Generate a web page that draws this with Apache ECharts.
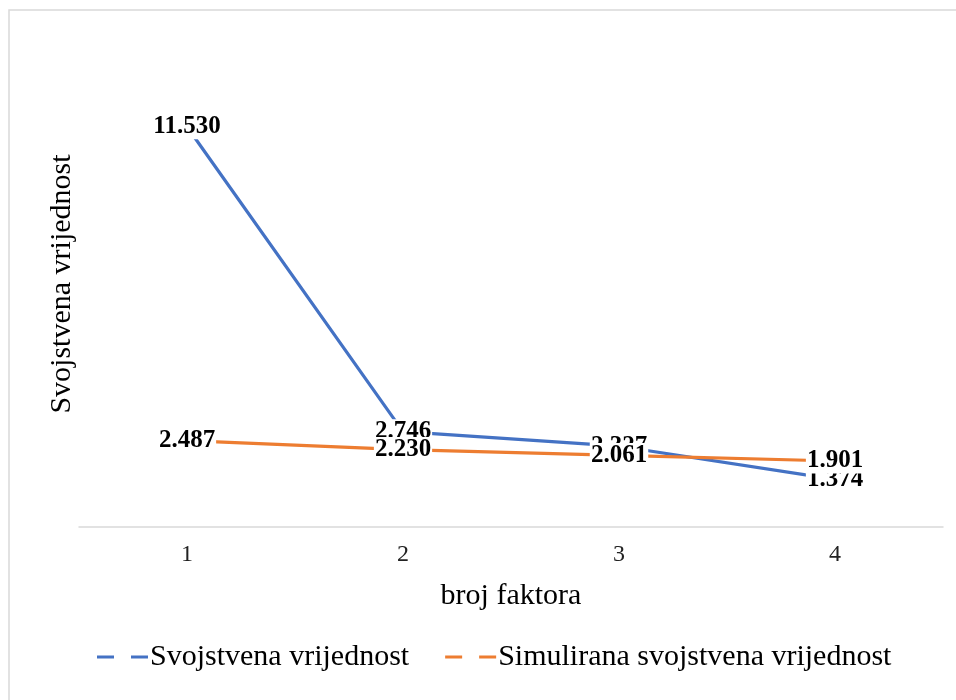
<!DOCTYPE html>
<html>
<head>
<meta charset="utf-8">
<script src="https://cdn.jsdelivr.net/npm/echarts@6/dist/echarts.min.js"></script>
<style>
  html, body { margin: 0; padding: 0; background: #fff; }
  #chart { width: 956px; height: 700px; }
</style>
</head>
<body>
<div id="chart"></div>
<script>
  // podaci
  var faktori = ['1', '2', '3', '4']
  var svojstvena = [11.530, 2.746, 2.327, 1.374]
  var simulirana = [2.487, 2.230, 2.061, 1.901]

  var serif = 'Liberation Serif'
  var chart = echarts.init(document.getElementById('chart'))

  function labelCfg() {
    return {
      show: true,
      position: 'inside',
      fontFamily: serif,
      fontWeight: 'bold',
      fontSize: 25,
      color: '#000',
      backgroundColor: '#fff',
      padding: [0, 1],
      formatter: function (p) { return p.value.toFixed(3) }
    }
  }

  var option = {
    animation: false,
    graphic: [{
      type: 'rect',
      shape: { x: 9, y: 10, width: 960, height: 700 },
      style: { fill: 'none', stroke: '#d9d9d9', lineWidth: 1.5 },
      silent: true
    }],
    grid: { left: 79, right: 13, top: 41, bottom: 173 },
    legend: {
      left: 92,
      top: 637,
      itemWidth: 51,
      itemHeight: 3,
      itemGap: 36,
      textStyle: { fontFamily: serif, fontSize: 30, color: '#000', padding: [0, 0, 0, -3] },
      data: [
        { name: 'Svojstvena vrijednost', icon: 'path://M0,0h17v3h-17z M34,0h17v3h-17z' },
        { name: 'Simulirana svojstvena vrijednost', icon: 'path://M0,0h17v3h-17z M34,0h17v3h-17z' }
      ]
    },
    xAxis: {
      type: 'category',
      data: faktori,
      boundaryGap: true,
      name: 'broj faktora',
      nameLocation: 'middle',
      nameGap: 54,
      nameTextStyle: { fontFamily: serif, fontSize: 30, color: '#000' },
      axisLine: { lineStyle: { color: '#d9d9d9', width: 1.5 } },
      axisTick: { show: false },
      axisLabel: { fontFamily: serif, fontSize: 24, color: '#222', margin: 16 }
    },
    yAxis: {
      type: 'value',
      min: 0,
      max: 14,
      interval: 2,
      name: 'Svojstvena vrijednost',
      nameLocation: 'middle',
      nameGap: 2,
      nameTextStyle: { fontFamily: serif, fontSize: 30, color: '#000' },
      axisLine: { show: false },
      axisTick: { show: false },
      axisLabel: { show: false },
      splitLine: { show: false }
    },
    series: [{
      name: 'Svojstvena vrijednost',
      type: 'line',
      data: svojstvena,
      symbol: 'circle',
      symbolSize: 1,
      color: '#4472c4',
      lineStyle: { width: 3.2, color: '#4472c4' },
      label: labelCfg()
    }, {
      name: 'Simulirana svojstvena vrijednost',
      type: 'line',
      data: simulirana,
      symbol: 'circle',
      symbolSize: 1,
      color: '#ed7d31',
      lineStyle: { width: 3.2, color: '#ed7d31' },
      label: labelCfg()
    }]
  }

  chart.setOption(option)
</script>
</body>
</html>
